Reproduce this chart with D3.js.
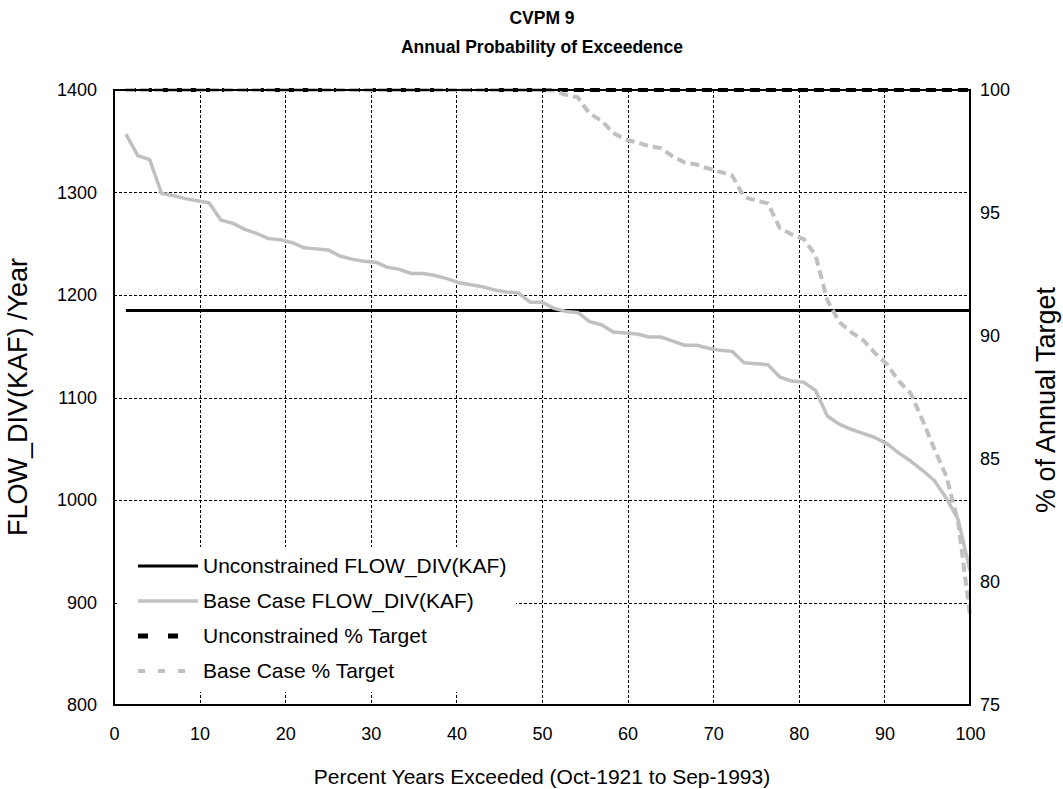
<!DOCTYPE html>
<html>
<head>
<meta charset="utf-8">
<script src="https://cdn.jsdelivr.net/npm/d3@7"></script>
<style>
  html, body { margin: 0; padding: 0; background: #fff; }
  svg { display: block; font-family: "Liberation Sans", Arial, sans-serif; }
</style>
</head>
<body>
<svg id="chart" width="1063" height="789"></svg>
<script>
// Percent of years exceeded (rank / 72 years)
const exceeded = [1.39, 2.78, 4.17, 5.56, 6.94, 8.33, 9.72, 11.11, 12.50, 13.89, 15.28, 16.67,
  18.06, 19.44, 20.83, 22.22, 23.61, 25.00, 26.39, 27.78, 29.17, 30.56, 31.94, 33.33,
  34.72, 36.11, 37.50, 38.89, 40.28, 41.67, 43.06, 44.44, 45.83, 47.22, 48.61, 50.00,
  51.39, 52.78, 54.17, 55.56, 56.94, 58.33, 59.72, 61.11, 62.50, 63.89, 65.28, 66.67,
  68.06, 69.44, 70.83, 72.22, 73.61, 75.00, 76.39, 77.78, 79.17, 80.56, 81.94, 83.33,
  84.72, 86.11, 87.50, 88.89, 90.28, 91.67, 93.06, 94.44, 95.83, 97.22, 98.61, 100.00];

// Unconstrained FLOW_DIV (KAF / year)
const unconstrainedFlow = [1185, 1185, 1185, 1185, 1185, 1185, 1185, 1185, 1185, 1185, 1185, 1185,
  1185, 1185, 1185, 1185, 1185, 1185, 1185, 1185, 1185, 1185, 1185, 1185,
  1185, 1185, 1185, 1185, 1185, 1185, 1185, 1185, 1185, 1185, 1185, 1185,
  1185, 1185, 1185, 1185, 1185, 1185, 1185, 1185, 1185, 1185, 1185, 1185,
  1185, 1185, 1185, 1185, 1185, 1185, 1185, 1185, 1185, 1185, 1185, 1185,
  1185, 1185, 1185, 1185, 1185, 1185, 1185, 1185, 1185, 1185, 1185, 1185];

// Base Case FLOW_DIV (KAF / year), sorted high to low
const baseFlow = [1357, 1336, 1332, 1299, 1297, 1294, 1292, 1290, 1273, 1270, 1264, 1260,
  1255, 1254, 1251, 1246, 1245, 1244, 1238, 1235, 1233, 1232, 1227, 1225,
  1221, 1221, 1219, 1216, 1212, 1210, 1208, 1205, 1203, 1202, 1193, 1193,
  1187, 1184, 1183, 1174, 1171, 1164, 1163, 1162, 1159, 1159, 1155, 1151,
  1151, 1148, 1146, 1145, 1134, 1133, 1132, 1120, 1116, 1115, 1107, 1082,
  1074, 1069, 1065, 1061, 1055, 1046, 1038, 1029, 1019, 1002, 981, 931];

// Unconstrained % of annual target
const unconstrainedPct = [100, 100, 100, 100, 100, 100, 100, 100, 100, 100, 100, 100,
  100, 100, 100, 100, 100, 100, 100, 100, 100, 100, 100, 100,
  100, 100, 100, 100, 100, 100, 100, 100, 100, 100, 100, 100,
  100, 100, 100, 100, 100, 100, 100, 100, 100, 100, 100, 100,
  100, 100, 100, 100, 100, 100, 100, 100, 100, 100, 100, 100,
  100, 100, 100, 100, 100, 100, 100, 100, 100, 100, 100, 100];

// Base Case % of annual target
const basePct = [100, 100, 100, 100, 100, 100, 100, 100, 100, 100, 100, 100,
  100, 100, 100, 100, 100, 100, 100, 100, 100, 100, 100, 100,
  100, 100, 100, 100, 100, 100, 100, 100, 100, 100, 100, 100,
  99.98, 99.80, 99.70, 99.04, 98.76, 98.25, 97.99, 97.87, 97.72, 97.64, 97.30, 97.05,
  96.97, 96.81, 96.67, 96.52, 95.65, 95.51, 95.39, 94.39, 94.13, 93.94, 93.29, 91.46,
  90.57, 90.16, 89.84, 89.31, 88.86, 88.17, 87.68, 86.59, 85.41, 84.31, 82.44, 78.66];

const xTicks = [0, 10, 20, 30, 40, 50, 60, 70, 80, 90, 100];
const yLeftTicks = [800, 900, 1000, 1100, 1200, 1300, 1400];
const yRightTicks = [75, 80, 85, 90, 95, 100];

const titleLines = ["CVPM 9", "Annual Probability of Exceedence"];
const xTitle = "Percent Years Exceeded (Oct-1921 to Sep-1993)";
const yLeftTitle = "FLOW_DIV(KAF) /Year";
const yRightTitle = "% of Annual Target";
const legendLabels = ["Unconstrained FLOW_DIV(KAF)", "Base Case FLOW_DIV(KAF)",
  "Unconstrained % Target", "Base Case % Target"];

const svg = d3.select("#chart");
const L = 114, R = 970, T = 90, B = 705;

const x = d3.scaleLinear().domain([0, 100]).range([L, R]);
const yL = d3.scaleLinear().domain([800, 1400]).range([B, T]);
const yR = d3.scaleLinear().domain([75, 100]).range([B, T]);

// grid
const grid = svg.append("g").attr("stroke", "#000").attr("stroke-width", 1)
  .attr("stroke-dasharray", "3,2").attr("shape-rendering", "crispEdges");
grid.selectAll("line.v").data(xTicks.slice(1, -1)).join("line")
  .attr("x1", d => Math.round(x(d)) + 0.5).attr("x2", d => Math.round(x(d)) + 0.5)
  .attr("y1", T).attr("y2", B);
grid.selectAll("line.h").data(yLeftTicks.slice(1, -1)).join("line")
  .attr("y1", d => Math.round(yL(d)) + 0.5).attr("y2", d => Math.round(yL(d)) + 0.5)
  .attr("x1", L).attr("x2", R);

// axes (labels only, no tick marks)
const fs = 18;
const fmt = d3.format("d");
const axB = d3.axisBottom(x).tickValues(xTicks).tickFormat(fmt).tickSize(0).tickPadding(22);
const axL = d3.axisLeft(yL).tickValues(yLeftTicks).tickFormat(fmt).tickSize(0).tickPadding(17);
const axR = d3.axisRight(yR).tickValues(yRightTicks).tickFormat(fmt).tickSize(0).tickPadding(10);
function styleAxis(g) {
  g.select(".domain").remove();
  g.selectAll("text").attr("font-size", fs).attr("fill", "#000")
    .attr("font-family", "Liberation Sans, Arial, sans-serif");
}
svg.append("g").attr("transform", `translate(0,${B})`).call(axB).call(styleAxis);
svg.append("g").attr("transform", `translate(${L},0)`).call(axL).call(styleAxis);
svg.append("g").attr("transform", `translate(${R},0)`).call(axR).call(styleAxis);

// series
const pts = (ys, scale) => exceeded.map((e, i) => [x(e), scale(ys[i])]);
const line = d3.line();

svg.append("path").attr("d", line(pts(unconstrainedFlow, yL)))
  .attr("fill", "none").attr("stroke", "#000").attr("stroke-width", 3);
svg.append("path").attr("d", line(pts(unconstrainedPct, yR)))
  .attr("fill", "none").attr("stroke", "#000").attr("stroke-width", 4)
  .attr("stroke-dasharray", "10,6");
svg.append("path").attr("d", line(pts(baseFlow, yL)))
  .attr("fill", "none").attr("stroke", "#c0c0c0").attr("stroke-width", 3.5)
  .attr("stroke-linejoin", "round");
svg.append("path").attr("d", line(pts(basePct, yR)))
  .attr("fill", "none").attr("stroke", "#c0c0c0").attr("stroke-width", 4)
  .attr("stroke-dasharray", "9,5");

// plot frame
svg.append("rect").attr("x", L).attr("y", T).attr("width", R - L).attr("height", B - T)
  .attr("fill", "none").attr("stroke", "#000").attr("stroke-width", 2);

// legend
const lg = svg.append("g");
lg.append("rect").attr("x", 118).attr("y", 547).attr("width", 398).attr("height", 145)
  .attr("fill", "#fff");
const legendStyles = [
  { stroke: "#000", width: 3, dash: null },
  { stroke: "#c0c0c0", width: 3.5, dash: null },
  { stroke: "#000", width: 5, dash: "10,20" },
  { stroke: "#c0c0c0", width: 4, dash: "7,13" }
];
const rowY = [566, 601, 636, 671];
legendLabels.forEach((lab, i) => {
  const s = legendStyles[i];
  lg.append("line").attr("x1", 138).attr("x2", 198).attr("y1", rowY[i]).attr("y2", rowY[i])
    .attr("stroke", s.stroke).attr("stroke-width", s.width)
    .attr("stroke-dasharray", s.dash);
  lg.append("text").attr("x", 203).attr("y", rowY[i]).attr("dy", "0.35em")
    .attr("font-size", 21).text(lab);
});

// titles
svg.append("g").selectAll("text").data(titleLines).join("text")
  .attr("x", 542).attr("y", (d, i) => 24 + i * 29)
  .attr("text-anchor", "middle").attr("font-size", 17.5).attr("font-weight", "bold")
  .text(d => d);
svg.append("text").attr("x", 542).attr("y", 784).attr("text-anchor", "middle")
  .attr("font-size", 21).text(xTitle);
svg.append("text").attr("transform", "translate(27,397) rotate(-90)")
  .attr("text-anchor", "middle").attr("font-size", 27).text(yLeftTitle);
svg.append("text").attr("transform", "translate(1055,400) rotate(-90)")
  .attr("text-anchor", "middle").attr("font-size", 27).text(yRightTitle);
</script>
</body>
</html>
